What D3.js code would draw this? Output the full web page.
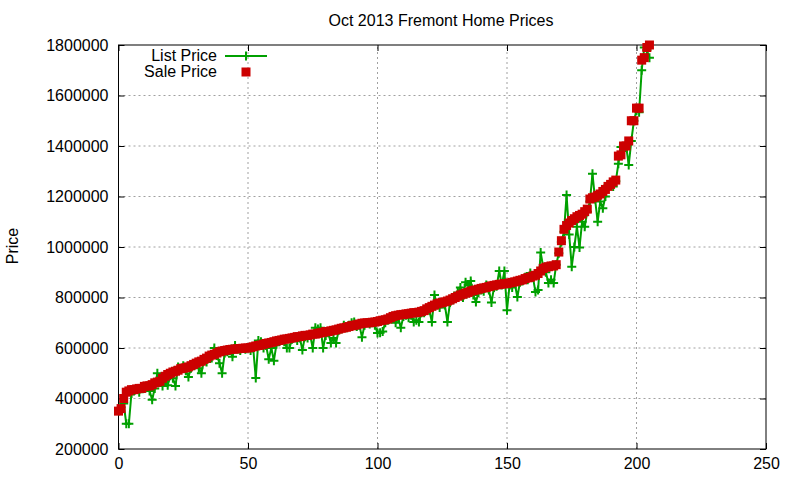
<!DOCTYPE html>
<html>
<head>
<meta charset="utf-8">
<script src="https://cdn.jsdelivr.net/npm/d3@7"></script>
<style>
  body { margin: 0; background: #fff; }
  svg { font-family: "Liberation Sans", Arial, sans-serif; }
  .tick-label { font-size: 16px; fill: #000; }
</style>
</head>
<body>
<div id="chart"></div>
<script>
// Sale price per home, sorted ascending (index = home number)
const salePrice = [
  350000, 360000, 400000, 425000, 430000, 435000, 435000, 438000, 440000, 440000,
  448000, 450000, 450000, 455000, 462000, 465000, 468000, 480000, 488000, 495000,
  500000, 505000, 508000, 512000, 518000, 520000, 522000, 525000, 530000, 535000,
  540000, 545000, 548000, 555000, 560000, 568000, 572000, 575000, 580000, 585000,
  588000, 590000, 592000, 594000, 595000, 596000, 597000, 598000, 599000, 600000,
  600000, 602000, 605000, 608000, 610000, 612000, 615000, 618000, 620000, 622000,
  625000, 628000, 630000, 632000, 635000, 636000, 638000, 640000, 642000, 645000,
  645000, 648000, 650000, 650000, 652000, 655000, 655000, 658000, 660000, 662000,
  665000, 665000, 668000, 670000, 672000, 675000, 678000, 680000, 682000, 685000,
  688000, 690000, 692000, 695000, 698000, 699000, 700000, 700000, 702000, 703000,
  705000, 708000, 710000, 712000, 715000, 720000, 725000, 728000, 730000, 732000,
  733000, 735000, 736000, 738000, 740000, 740000, 742000, 745000, 748000, 755000,
  760000, 765000, 770000, 775000, 778000, 780000, 783000, 786000, 790000, 795000,
  800000, 805000, 810000, 813000, 817000, 820000, 825000, 828000, 830000, 833000,
  836000, 838000, 840000, 843000, 846000, 848000, 850000, 852000, 853000, 855000,
  855000, 858000, 860000, 862000, 865000, 868000, 870000, 875000, 878000, 880000,
  885000, 888000, 895000, 905000, 915000, 920000, 922000, 925000, 925000, 930000,
  980000, 1025000, 1070000, 1085000, 1095000, 1105000, 1112000, 1120000, 1125000, 1130000,
  1140000, 1150000, 1190000, 1195000, 1198000, 1205000, 1210000, 1220000, 1228000, 1240000,
  1248000, 1258000, 1265000, 1360000, 1365000, 1400000, 1400000, 1420000, 1500000, 1500000,
  1550000, 1550000, 1740000, 1750000, 1790000, 1800000
];

// Asking price of the same homes
const listPrice = [
  350000, 365000, 380000, 300000, 300000, 420000, 430000, 438000, 425000, 440000,
  440000, 450000, 430000, 395000, 440000, 500000, 465000, 450000, 470000, 452000,
  490000, 480000, 450000, 525000, 520000, 530000, 510000, 485000, 520000, 530000,
  535000, 520000, 500000, 550000, 545000, 565000, 560000, 600000, 570000, 540000,
  500000, 580000, 585000, 590000, 565000, 610000, 595000, 590000, 598000, 595000,
  600000, 590000, 600000, 481000, 630000, 625000, 600000, 610000, 555000, 600000,
  550000, 615000, 625000, 630000, 625000, 600000, 600000, 635000, 640000, 630000,
  640000, 592000, 645000, 640000, 650000, 600000, 680000, 675000, 680000, 600000,
  650000, 660000, 620000, 640000, 620000, 670000, 675000, 690000, 680000, 690000,
  700000, 703000, 685000, 690000, 643000, 690000, 700000, 695000, 700000, 690000,
  659000, 660000, 665000, 700000, 710000, 715000, 720000, 700000, 720000, 680000,
  725000, 730000, 720000, 730000, 703000, 710000, 703000, 740000, 740000, 750000,
  750000, 703000, 810000, 770000, 760000, 775000, 770000, 703000, 780000, 790000,
  800000, 820000, 840000, 800000, 860000, 850000, 865000, 810000, 782000, 820000,
  830000, 825000, 850000, 830000, 780000, 840000, 845000, 905000, 850000, 905000,
  750000, 850000, 840000, 855000, 802000, 860000, 865000, 880000, 870000, 897000,
  880000, 822000, 830000, 978000, 920000, 900000, 857000, 870000, 857000, 930000,
  975000, 1020000, 1060000, 1206000, 1050000, 922000, 1000000, 1080000, 998000, 1100000,
  1080000, 1140000, 1180000, 1290000, 1190000, 1100000, 1180000, 1153000, 1200000, 1245000,
  1245000, 1240000, 1260000, 1330000, 1396000, 1380000, 1400000, 1325000, 1420000, 1500000,
  1540000, 1534000, 1700000, 1790000, 1780000, 1750000
];

const xTicks = [0, 50, 100, 150, 200, 250];
const yTicks = [200000, 400000, 600000, 800000, 1000000, 1200000, 1400000, 1600000, 1800000];
const seriesNames = ["List Price", "Sale Price"];

const width = 800;
const height = 480;
const margin = { top: 45, right: 34, bottom: 31, left: 118.5 };
const green = "#00a000";
const red = "#cc0000";

const svg = d3.select("#chart").append("svg")
    .attr("width", width)
    .attr("height", height);

const x = d3.scaleLinear()
    .domain([0, 250])
    .range([margin.left, width - margin.right]);

const y = d3.scaleLinear()
    .domain([200000, 1800000])
    .range([height - margin.bottom, margin.top]);

const x0 = x.range()[0], x1 = x.range()[1];
const y0 = y.range()[0], y1 = y.range()[1];

svg.append("defs").append("clipPath")
    .attr("id", "plot-clip")
    .append("rect")
    .attr("x", x0).attr("y", y1)
    .attr("width", x1 - x0).attr("height", y0 - y1);

// Grid (dotted, gnuplot style)
const grid = svg.append("g").attr("class", "grid");
xTicks.slice(1, -1).forEach(t => {
    grid.append("line")
        .attr("x1", x(t)).attr("x2", x(t))
        .attr("y1", y0).attr("y2", y1)
        .attr("stroke", "#a0a0a0").attr("stroke-dasharray", "2,3");
});
yTicks.slice(1, -1).forEach(t => {
    grid.append("line")
        .attr("x1", x0).attr("x2", x1)
        .attr("y1", y(t)).attr("y2", y(t))
        .attr("stroke", "#a0a0a0").attr("stroke-dasharray", "2,3");
});

// Axes: ticks drawn inward, mirrored on the opposite side
const tickLen = 6;
const axisBottom = svg.append("g")
    .attr("transform", `translate(0,${y0})`)
    .call(d3.axisBottom(x).tickValues(xTicks).tickSizeInner(-tickLen).tickSizeOuter(0).tickPadding(9));
const axisTop = svg.append("g")
    .attr("transform", `translate(0,${y1})`)
    .call(d3.axisTop(x).tickValues(xTicks).tickSizeInner(-tickLen).tickSizeOuter(0).tickFormat(""));
const axisLeft = svg.append("g")
    .attr("transform", `translate(${x0},0)`)
    .call(d3.axisLeft(y).tickValues(yTicks).tickSizeInner(-tickLen).tickSizeOuter(0).tickPadding(10).tickFormat(d3.format("d")));
const axisRight = svg.append("g")
    .attr("transform", `translate(${x1},0)`)
    .call(d3.axisRight(y).tickValues(yTicks).tickSizeInner(-tickLen).tickSizeOuter(0).tickFormat(""));

[axisBottom, axisTop, axisLeft, axisRight].forEach(a => {
    a.select(".domain").remove();
    a.selectAll(".tick line").attr("stroke", "#000");
    a.selectAll("text")
        .attr("class", "tick-label")
        .attr("fill", "#000")
        .style("font-family", "'Liberation Sans', Arial, sans-serif")
        .style("font-size", "16px");
});

// Border
svg.append("rect")
    .attr("x", x0).attr("y", y1)
    .attr("width", x1 - x0).attr("height", y0 - y1)
    .attr("fill", "none").attr("stroke", "#000").attr("stroke-width", 1);

// List price line with + markers
const listData = listPrice.map((v, i) => ({ i, v }));
const saleData = salePrice.map((v, i) => ({ i, v }));

const plotG = svg.append("g").attr("clip-path", "url(#plot-clip)");

plotG.append("path")
    .datum(listData)
    .attr("fill", "none")
    .attr("stroke", green)
    .attr("stroke-width", 2)
    .attr("d", d3.line().x(d => x(d.i)).y(d => y(d.v)));

const plusSize = 4.5;
plotG.selectAll(".plus")
    .data(listData)
    .join("path")
    .attr("class", "plus")
    .attr("fill", "none")
    .attr("stroke", green)
    .attr("stroke-width", 2)
    .attr("d", d => {
        const cx = x(d.i), cy = y(d.v);
        return `M${cx - plusSize},${cy}H${cx + plusSize}M${cx},${cy - plusSize}V${cy + plusSize}`;
    });

// Sale price squares
const sq = 9;
svg.append("g").selectAll("rect")
    .data(saleData)
    .join("rect")
    .attr("x", d => x(d.i) - sq / 2)
    .attr("y", d => y(d.v) - sq / 2)
    .attr("width", sq)
    .attr("height", sq)
    .attr("fill", red);

// Title
svg.append("text")
    .attr("x", 441)
    .attr("y", 26)
    .attr("text-anchor", "middle")
    .style("font-size", "16px")
    .text("Oct 2013 Fremont Home Prices");

// Y axis label
svg.append("text")
    .attr("transform", "rotate(-90)")
    .attr("x", -246)
    .attr("y", 18)
    .attr("text-anchor", "middle")
    .style("font-size", "16px")
    .text("Price");

// Legend
const legend = svg.append("g");
legend.append("text")
    .attr("x", 217).attr("y", 61)
    .attr("text-anchor", "end")
    .style("font-size", "16px")
    .text(seriesNames[0]);
legend.append("line")
    .attr("x1", 225).attr("x2", 267)
    .attr("y1", 56).attr("y2", 56)
    .attr("stroke", green).attr("stroke-width", 2);
legend.append("path")
    .attr("d", `M${246 - plusSize},56H${246 + plusSize}M246,${56 - plusSize}V${56 + plusSize}`)
    .attr("stroke", green).attr("stroke-width", 2);
legend.append("text")
    .attr("x", 217).attr("y", 77)
    .attr("text-anchor", "end")
    .style("font-size", "16px")
    .text(seriesNames[1]);
legend.append("rect")
    .attr("x", 246 - sq / 2).attr("y", 72 - sq / 2)
    .attr("width", sq).attr("height", sq)
    .attr("fill", red);
</script>
</body>
</html>
